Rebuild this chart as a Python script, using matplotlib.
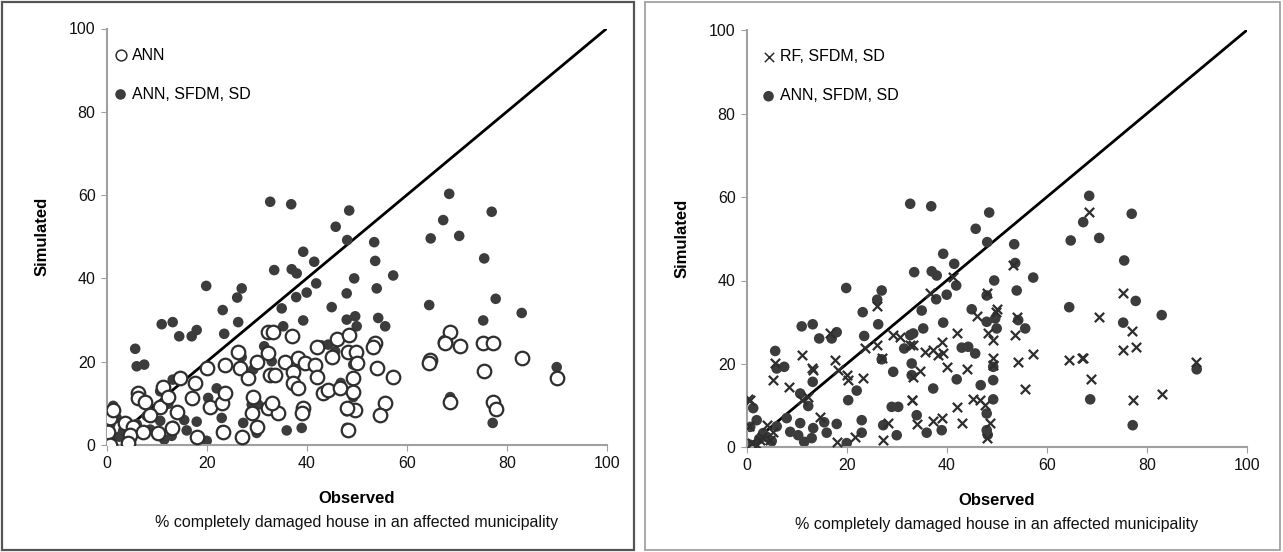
import matplotlib
matplotlib.use("Agg")
import matplotlib.pyplot as plt
from matplotlib.patches import Rectangle

plt.rcParams['font.family'] = ['Liberation Sans', 'DejaVu Sans']

# ANN, SFDM, SD (filled circles, same in both panels)
full_x = [32.7, 36.9, 48.5, 68.5, 67.3, 77.0, 45.8, 48.1, 53.5, 64.8, 70.5, 39.3, 41.5, 53.7, 75.5,
          33.5, 37.0, 38.0, 49.5, 57.3, 41.9, 40.0, 37.9, 48.0, 54.0, 19.9, 27.0, 26.1, 77.8, 45.0,
          35.0, 64.5, 23.2, 83.0, 75.3,
          11.0, 13.2, 26.3, 14.5, 17.0, 18.0, 23.5, 48.0, 49.7, 50.0, 54.3, 55.7, 39.3, 35.3, 33.3,
          32.7, 43.0, 44.3, 45.7, 5.7, 6.0, 7.5, 27.0, 31.5, 29.3, 33.0, 33.0, 42.0, 37.3, 46.8,
          49.3, 49.3, 49.3, 90.0, 68.7, 13.2, 22.0, 20.3, 10.7, 12.3, 29.0, 30.3,
          48.0, 48.0, 34.0, 39.0, 77.2, 18.0, 1.3, 0.7, 0.7, 3.3, 4.0, 2.5, 8.0, 8.7, 10.7, 10.3,
          13.0, 13.3, 23.0, 23.0, 27.3, 30.0, 48.2, 15.5, 16.0, 6.0, 5.0, 2.0, 11.5, 20.0, 36.0]
full_y = [58.4, 57.8, 56.3, 60.3, 54.0, 56.0, 52.4, 49.2, 48.7, 49.6, 50.2, 46.4, 44.0, 44.2, 44.8,
          42.0, 42.2, 41.2, 40.0, 40.7, 38.8, 36.6, 35.5, 36.4, 37.6, 38.2, 37.6, 35.4, 35.1, 33.1,
          32.8, 33.6, 32.4, 31.7, 29.9,
          29.0, 29.5, 29.5, 26.1, 26.1, 27.6, 26.7, 30.1, 30.9, 28.5, 30.5, 28.5, 29.9, 28.5, 27.3,
          26.9, 23.9, 24.1, 22.5, 23.1, 18.9, 19.3, 21.1, 23.7, 18.1, 20.1, 17.3, 16.3, 14.1, 14.9,
          19.3, 16.1, 11.5, 18.7, 11.5, 15.7, 13.6, 11.3, 12.9, 9.9, 9.7, 9.7,
          8.1, 4.1, 7.7, 4.1, 5.3, 5.6, 9.4, 4.9, 0.6, 3.4, 2.5, 2.0, 7.0, 3.7, 5.8, 2.9,
          2.2, 4.6, 6.5, 3.5, 5.3, 2.9, 3.0, 6.0, 3.5, 5.0, 1.5, 6.5, 1.3, 1.0, 3.5]

# ANN (open circles, left panel)
ann_x = [32.3, 26.3, 26.7, 28.3, 29.3, 23.7, 20.0, 17.7, 14.7, 11.3, 6.3, 6.3, 7.7, 17.0, 14.0,
         10.7, 20.7, 23.0, 23.7, 12.3, 8.7, 0.7, 1.3, 3.7, 5.3, 0.3, 4.7, 0.7, 4.3, 7.3,
         10.3, 13.0, 18.0, 23.3, 27.0, 30.0, 29.0, 32.3, 32.7, 32.3, 30.0,
         37.0, 33.3, 42.0, 46.0, 48.5, 48.3, 49.9, 45.0, 50.0, 53.7, 53.3, 35.7, 38.3, 39.7,
         41.7, 33.7, 37.3, 37.3, 38.3, 42.0, 43.3, 44.3, 46.7, 49.3, 49.3, 49.7, 48.0, 54.0,
         57.3, 55.7, 54.7, 39.3, 39.0, 34.3, 33.0, 48.3, 64.7, 64.5, 67.7,
         68.7, 67.7, 70.7, 75.3, 77.2, 75.5, 83.0, 90.0, 68.7, 77.3, 77.9]
ann_y = [27.2, 22.4, 18.4, 16.0, 11.6, 19.2, 18.4, 14.8, 16.0, 14.0, 12.4, 11.2, 10.4, 11.2, 8.0,
         9.2, 9.2, 10.0, 12.4, 11.6, 7.2, 6.4, 8.4, 5.2, 4.4, 3.2, 2.4, 0.0, 0.4, 3.2,
         2.8, 4.0, 2.0, 3.2, 2.0, 4.4, 7.6, 8.8, 16.8, 22.0, 20.0,
         26.2, 27.2, 23.6, 25.4, 26.4, 22.4, 22.4, 21.2, 19.6, 24.4, 23.6, 20.0, 20.8, 19.6,
         19.2, 16.8, 17.6, 14.8, 13.6, 16.4, 12.4, 13.2, 13.6, 16.0, 12.8, 8.4, 8.8, 18.4,
         16.4, 10.0, 7.2, 8.8, 7.6, 7.6, 10.0, 3.6, 20.4, 19.8, 24.8,
         27.2, 24.6, 23.8, 24.6, 24.6, 17.8, 20.8, 16.0, 10.4, 10.4, 8.6]

# RF, SFDM, SD (crosses, right panel)
rf_x = [26.0, 16.7, 26.0, 23.7, 27.0, 29.3, 30.7, 32.7, 11.0, 5.7, 13.0, 13.3, 17.7, 18.3, 20.0,
        20.3, 23.3, 5.3, 8.5, 0.7, 11.0, 12.3, 14.7, 33.0, 28.3, 21.7, 27.3, 18.0, 4.0, 4.7,
        2.7, 5.3,
        49.9, 46.0, 48.3, 49.3, 42.0, 53.7, 54.0, 33.3, 35.7, 37.3, 39.0, 39.3, 38.3, 40.0,
        44.0, 49.3, 49.3, 54.3, 57.2, 64.5, 67.0, 55.7, 34.7, 33.3, 33.0, 42.0, 45.3, 46.7,
        47.7, 48.7, 37.3, 39.0, 43.0, 34.0, 48.1,
        70.5, 77.0, 75.2, 77.9, 67.3, 68.8, 89.9, 83.0, 77.2, 68.5, 75.3,
        53.3, 48.0, 41.3, 36.7, 50.0, 0.3, 0.5, 1.0, 3.0, 2.0]
rf_y = [33.9, 27.3, 24.5, 23.7, 21.3, 26.9, 26.5, 24.5, 22.1, 20.1, 18.9, 18.5, 20.9, 18.5, 17.3,
        16.1, 16.5, 16.1, 14.5, 11.3, 11.3, 12.1, 7.3, 11.3, 5.8, 2.5, 1.7, 1.3, 5.3, 1.7,
        1.7, 3.7,
        32.5, 31.5, 27.3, 25.7, 27.3, 26.9, 31.3, 24.5, 22.9, 23.3, 25.3, 22.5, 22.1, 19.3,
        18.7, 21.3, 19.8, 20.5, 22.4, 20.9, 21.3, 14.1, 18.4, 16.8, 11.3, 9.6, 11.5, 11.3,
        10.1, 5.9, 6.4, 7.0, 5.9, 5.6, 2.2,
        31.3, 28.0, 23.3, 24.0, 21.3, 16.3, 20.5, 12.8, 11.3, 56.5, 37.1,
        43.7, 36.9, 40.9, 36.9, 33.1, 11.5, 5.0, 1.0, 2.5, 0.5]

ticks = [0, 20, 40, 60, 80, 100]
xlabel = "Observed"
ylabel = "Simulated"
subtitle = "% completely damaged house in an affected municipality"

W, H = 1283, 552
fig = plt.figure(figsize=(W / 100, H / 100), dpi=100)

# panel frames
fig.patches.append(Rectangle((2 / W, 2 / H), 632 / W, 548 / H, transform=fig.transFigure,
                             fill=False, edgecolor='#555555', linewidth=1.6))
fig.patches.append(Rectangle((645 / W, 2 / H), 635 / W, 548 / H, transform=fig.transFigure,
                             fill=False, edgecolor='#999999', linewidth=1.2))

dark = '#3c3c3c'
edge = '#2e2e2e'

def style(ax):
    ax.set_xlim(0, 100)
    ax.set_ylim(0, 100)
    ax.set_xticks(ticks)
    ax.set_yticks(ticks)
    for s in ['top', 'right']:
        ax.spines[s].set_visible(False)
    for s in ['left', 'bottom']:
        ax.spines[s].set_color('#a0a0a0')
        ax.spines[s].set_linewidth(1.5)
    ax.tick_params(direction='out', length=4, color='#a0a0a0', labelsize=11.5,
                   labelcolor='#111111', pad=4)
    ax.plot([0, 100], [0, 100], color='black', linewidth=2, zorder=1)
    ax.set_xlabel(xlabel, fontsize=12, fontweight='bold', labelpad=14)
    ax.set_ylabel(ylabel, fontsize=12, fontweight='bold', labelpad=14)
    ax.text(0.5, -0.186, subtitle, transform=ax.transAxes, ha='center', va='center',
            fontsize=11.5, color='#111111')

leg_kw = dict(loc='upper left', frameon=False, fontsize=11.5,
              handletextpad=0.0, labelspacing=1.5, borderaxespad=0.8, handlelength=1.4)

# left panel
ax1 = fig.add_axes([106.7 / W, 1 - 445 / H, 500 / W, 416.5 / H])
style(ax1)
ax1.scatter(ann_x, ann_y, s=95, facecolor='white', edgecolor=edge, linewidth=1.6,
            label='ANN', zorder=3)
ax1.scatter(full_x, full_y, s=58, color=dark, edgecolor='none', label='ANN, SFDM, SD', zorder=2)
lg1 = ax1.legend(bbox_to_anchor=(-0.033, 1.0), **leg_kw)
lg1.legend_handles[0].set_sizes([60])
lg1.legend_handles[0].set_linewidth(1.1)
lg1.legend_handles[1].set_sizes([58])

# right panel
ax2 = fig.add_axes([746.7 / W, 1 - 447.3 / H, 500 / W, 417 / H])
style(ax2)
ax2.scatter(full_x, full_y, s=58, color=dark, edgecolor='none', label='ANN, SFDM, SD', zorder=2)
ax2.scatter(rf_x, rf_y, s=45, marker='x', color=edge, linewidth=1.6, label='RF, SFDM, SD', zorder=3)
h, l = ax2.get_legend_handles_labels()
lg2 = ax2.legend([h[1], h[0]], [l[1], l[0]], bbox_to_anchor=(-0.017, 1.0), **leg_kw)
lg2.legend_handles[0].set_linewidth(1.1)

fig.savefig('out.png', dpi=100)
